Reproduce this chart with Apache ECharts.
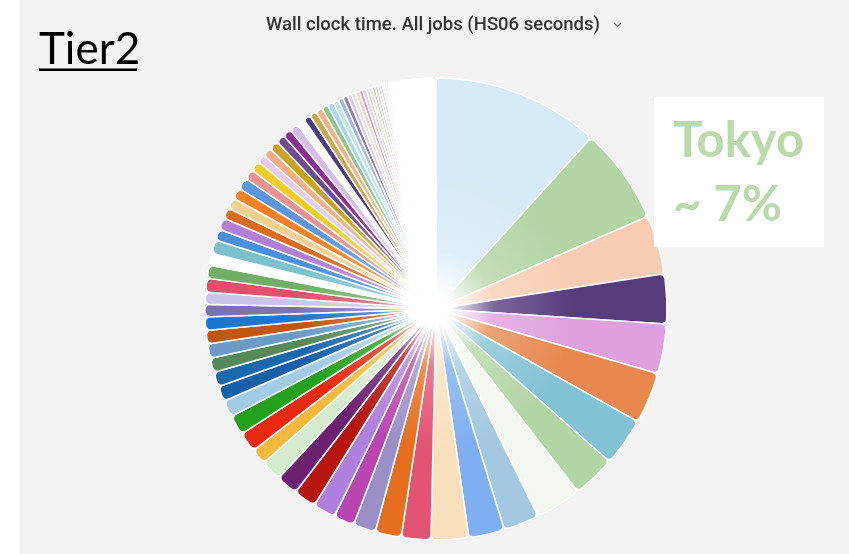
<!DOCTYPE html>
<html>
<head>
<meta charset="utf-8">
<script src="https://cdn.jsdelivr.net/npm/echarts@6/dist/echarts.min.js"></script>
<style>
  html, body { margin: 0; padding: 0; background: #ffffff; }
  #chart { width: 849px; height: 554px; background: linear-gradient(to right, #ffffff 20px, #f3f3f3 20px); }
</style>
</head>
<body>
<div id="chart"></div>
<script>
// Share of wall clock time per Tier2 site (percent of all jobs, HS06 seconds)
const sites = [
  'Site 01', 'Tokyo', 'Site 03', 'Site 04', 'Site 05', 'Site 06', 'Site 07', 'Site 08',
  'Site 09', 'Site 10', 'Site 11', 'Site 12', 'Site 13', 'Site 14', 'Site 15', 'Site 16',
  'Site 17', 'Site 18', 'Site 19', 'Site 20', 'Site 21', 'Site 22', 'Site 23', 'Site 24',
  'Site 25', 'Site 26', 'Site 27', 'Site 28', 'Site 29', 'Site 30', 'Site 31', 'Site 32',
  'Site 33', 'Site 34', 'Site 35', 'Site 36', 'Site 37', 'Site 38', 'Site 39', 'Site 40',
  'Site 41', 'Site 42', 'Site 43', 'Site 44', 'Site 45', 'Site 46', 'Site 47', 'Site 48',
  'Site 49', 'Site 50', 'Site 51', 'Site 52', 'Site 53', 'Site 54', 'Site 55', 'Site 56',
  'Site 57', 'Site 58', 'Site 59', 'Site 60', 'Site 61', 'Site 62', 'Site 63', 'Site 64',
  'Site 65', 'Site 66', 'Site 67', 'Site 68', 'Site 69', 'Site 70', 'Site 71', 'Site 72',
  'Site 73', 'Site 74', 'Site 75', 'Site 76', 'Site 77', 'Site 78', 'Site 79', 'Site 80',
  'Site 81', 'Site 82', 'Site 83', 'Other'
];

const shares = [
  11.67, 6.72, 4.11, 3.47, 3.47, 3.58, 3.36, 3.00,
  3.22, 2.50, 2.50, 2.61, 2.06, 1.83, 1.56, 1.44,
  1.58, 1.58, 1.50, 1.47, 1.11, 1.39, 1.39, 1.17,
  1.06, 1.03, 1.00, 1.00, 0.94, 0.94, 0.86, 0.83,
  0.97, 0.92, 0.83, 0.94, 0.78, 0.83, 0.75, 0.78,
  0.78, 0.81, 0.72, 0.72, 0.58, 0.64, 0.67, 0.61,
  0.61, 0.61, 0.56, 0.50, 0.50, 0.47, 0.44, 0.42,
  0.39, 0.36, 0.33, 0.31, 0.28, 0.28, 0.25, 0.25,
  0.22, 0.22, 0.19, 0.19, 0.17, 0.17, 0.14, 0.14,
  0.14, 0.11, 0.11, 0.08, 0.08, 0.06, 0.06, 0.04,
  0.04, 0.03, 0.03, 2.67
];

const palette = [
  '#d6ebf7', '#b3d4a5', '#f9cdb4', '#563b7d', '#dea0df', '#e8884f', '#82c2d4', '#b2d5a5',
  '#f2f8f0', '#a4c8e2', '#7eaff2', '#f8e0bd', '#e25374', '#e66f1f', '#9b90c6', '#b946b0',
  '#b07fdd', '#b5140f', '#6d206f', '#d7ebd1', '#f4b93e', '#e9290f', '#24a01d', '#a2cce5',
  '#1560a6', '#1c68ae', '#55895a', '#6c9bc8', '#c1560e', '#1c76d0', '#7e72ad', '#c9c5ea',
  '#e3506d', '#70b066', '#ffffff', '#7cc2cc', '#4a8fe0', '#b27ed6', '#e06a1b', '#f6d091',
  '#f98024', '#5b97df', '#ec9090', '#f4cc2a', '#e9cbea', '#f4ae86', '#c8a126', '#6e4b94',
  '#8a2f8f', '#d6bde8', '#fbfbfb', '#4b3c7c', '#c9a850', '#f2b38a', '#93c58a', '#a8d6ea',
  '#bfe6e3', '#a4b5e3', '#8d80b4', '#d8c8ec', '#dfe3ea', '#f8d3b2', '#c7a0d8', '#f0c8d8',
  '#bcd9f0', '#f7e0a8', '#d1b3e0', '#b5dcc0', '#f5c6b5', '#c5cbe8', '#e9d6f1', '#f3e2c7',
  '#d6e8f5', '#eddcdc', '#dfe9d8', '#f5e9f5', '#eef2f8', '#e6d6ee', '#f6e6d6', '#e0ecf6',
  '#f0e0ea', '#eaf2e6', '#f4f0f8', '#ffffff'
];

const PIE_CX = 436, PIE_CY = 309, PIE_R = 231;

function mix(hex, t) {
  const n = parseInt(hex.slice(1), 16);
  const r = (n >> 16) & 255, g = (n >> 8) & 255, b = n & 255;
  const f = c => Math.round(c + (255 - c) * t);
  return 'rgb(' + f(r) + ',' + f(g) + ',' + f(b) + ')';
}

// Each slice fades from white at the pie centre to its full colour outward
function sliceFill(hex) {
  return {
    type: 'radial', x: PIE_CX, y: PIE_CY, r: PIE_R, global: true,
    colorStops: [
      { offset: 0, color: '#ffffff' },
      { offset: 0.05, color: '#ffffff' },
      { offset: 0.25, color: mix(hex, 0.22) },
      { offset: 0.6, color: hex },
      { offset: 1, color: hex }
    ]
  };
}

const pieData = sites.map((name, i) => ({
  name: name,
  value: shares[i],
  itemStyle: { color: sliceFill(palette[i]) }
}));

const chart = echarts.init(document.getElementById('chart'), null, { renderer: 'canvas' });

chart.setOption({
  animation: false,
  backgroundColor: 'transparent',
  graphic: [
    {
      type: 'text', z: 100,
      style: {
        text: 'Wall clock time. All jobs (HS06 seconds)',
        x: 266, y: 25, textVerticalAlign: 'middle',
        font: '500 18.5px Roboto', fill: '#333333'
      }
    },
    {
      type: 'polyline', z: 100,
      shape: { points: [[614, 23], [617.5, 26.5], [621, 23]] },
      style: { stroke: '#6f6f6f', lineWidth: 1.3, fill: null }
    },
    {
      type: 'text', z: 100,
      style: {
        text: 'Tier2', x: 39, y: 50, textVerticalAlign: 'middle',
        font: '44px Lato', fill: '#000000'
      }
    },
    {
      type: 'rect', z: 100,
      shape: { x: 39, y: 68.5, width: 98, height: 2.6 },
      style: { fill: '#000000' }
    },
    {
      type: 'rect', z: 100,
      shape: { x: 654, y: 97, width: 170, height: 150 },
      style: { fill: '#ffffff' }
    },
    {
      type: 'text', z: 101,
      style: {
        text: 'Tokyo', x: 673, y: 141, textVerticalAlign: 'middle',
        font: 'bold 49px Lato', fill: '#badaac'
      }
    },
    {
      type: 'text', z: 101,
      style: {
        text: '~ 7%', x: 673, y: 205, textVerticalAlign: 'middle',
        font: 'bold 49px Lato', fill: '#badaac'
      }
    }
  ],
  series: [{
    type: 'pie',
    center: [PIE_CX, PIE_CY],
    radius: [0, PIE_R],
    startAngle: 90,
    clockwise: true,
    avoidLabelOverlap: false,
    label: { show: false },
    labelLine: { show: false },
    emphasis: { disabled: true },
    itemStyle: { borderColor: '#ffffff', borderWidth: 1.5, borderRadius: 5 },
    data: pieData
  }]
});
</script>
</body>
</html>
